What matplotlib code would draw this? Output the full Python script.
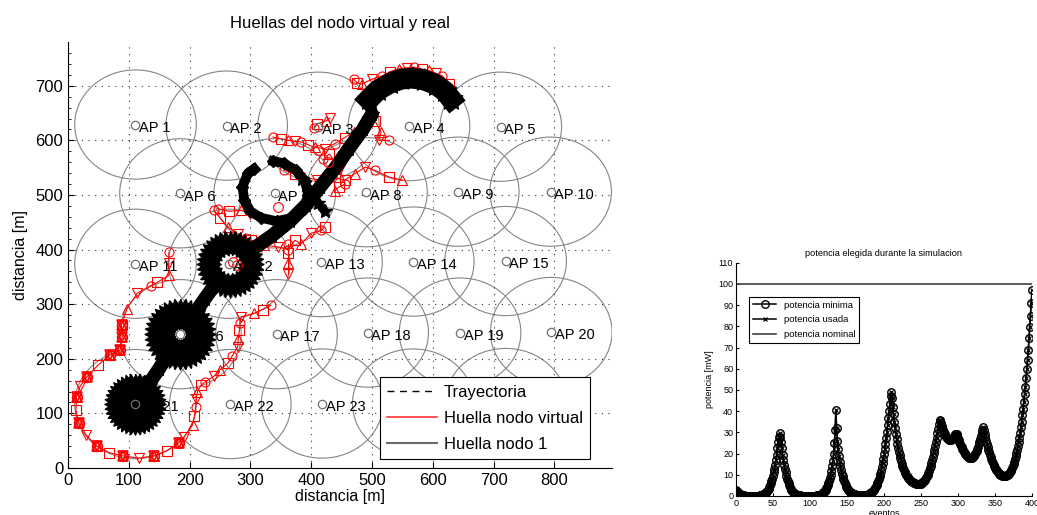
import matplotlib
matplotlib.use('Agg')
import matplotlib.pyplot as plt
import numpy as np
from matplotlib.patches import Circle
from matplotlib.lines import Line2D

plt.rcParams['font.family'] = ['Liberation Sans', 'DejaVu Sans']

# --- puntos de acceso (posiciones) ---
ap_x = [111, 261, 412, 561, 712, 185, 340, 491, 642, 794, 111, 265, 417, 568, 720,
        185, 343, 493, 645, 795, 111, 267, 418, 568, 720]
ap_y = [629, 627, 625, 626, 625, 503, 503, 505, 506, 506, 374, 374, 377, 378, 379,
        245, 245, 248, 248, 249, 117, 117, 118, 118, 119]
ap_radio = 100

# --- huella del nodo virtual (rojo) ---
red_a = [(334, 298), (320, 290), (306, 283), (285, 277), (283, 265), (282, 252), (280, 237),
         (279, 222), (270, 205), (263, 192), (250, 180), (240, 168), (226, 158), (219, 152),
         (213, 140), (211, 126), (210, 112), (208, 95), (205, 79), (191, 57), (182, 46),
         (163, 32), (141, 22), (116, 18), (91, 22), (68, 28), (47, 40), (30, 60), (18, 82),
         (13, 106), (14, 130), (20, 150), (31, 167), (49, 188), (69, 207), (86, 216),
         (89, 240), (88, 262), (97, 292), (114, 320), (136, 334), (147, 340), (166, 353),
         (166, 375), (166, 395)]
red_grupos = [(182, 46), (141, 22), (91, 22), (47, 40), (18, 82), (14, 130), (31, 167),
              (69, 207), (86, 216), (89, 240), (88, 262)]
red_b = [(240, 472), (250, 458), (263, 441), (279, 429), (292, 422), (301, 417), (322, 408),
         (345, 405), (362, 400), (373, 417), (384, 411), (400, 430), (417, 435), (422, 441)]
red_c = [(362, 411), (362, 393), (362, 375), (362, 356)]
red_d = [(337, 606), (350, 603), (362, 600), (373, 598), (384, 597), (395, 592), (406, 587),
         (422, 585), (439, 594), (455, 605), (470, 615)]
red_ap3 = [(405, 622), (410, 630), (425, 636), (431, 641)]
red_e = [(470, 712), (476, 705), (483, 703), (500, 712), (517, 718), (530, 726), (544, 731),
         (557, 733), (569, 734), (582, 731), (594, 728), (605, 723), (616, 718), (627, 703)]
red_g = [(490, 640), (505, 636), (515, 615), (511, 600), (528, 600)]
red_f = [(356, 545), (373, 539), (389, 532), (410, 528), (434, 533), (455, 527), (472, 539),
         (489, 551), (505, 545), (528, 533), (550, 527)]
red_h = [(420, 565), (430, 575), (440, 560), (447, 548), (456, 520), (445, 514), (439, 508)]
red_i = [(246, 475), (265, 470), (285, 472), (300, 466)]
red_sueltos = [(346, 478), (271, 377), (278, 372), (412, 583), (428, 560)]

# --- huella del nodo 1 (negro) ---
negro_tramo = [(110, 117), (150, 182), (185, 245), (225, 310), (266, 373), (300, 398),
               (335, 425), (365, 452), (392, 482), (415, 515), (440, 550), (462, 585),
               (485, 620), (500, 648)]
negro_tramo2 = [(190, 250), (215, 285), (240, 330), (262, 368)]
negro_anillo = [(306, 548), (296, 540), (287, 515), (290, 490), (300, 470), (318, 458),
                (343, 452), (368, 458), (388, 475), (395, 500), (390, 525), (375, 545),
                (355, 558), (338, 562)]
negro_cruz = [(385, 530), (400, 505), (412, 485), (422, 470)]
negro_arco = [(495, 675), (510, 692), (530, 705), (548, 712), (566, 714), (585, 711),
              (605, 702), (620, 690), (630, 676)]
negro_manchas_x = [111, 185, 266]
negro_manchas_y = [117, 245, 373]

# --- potencia elegida durante la simulacion (un valor por evento, 0..400) ---
potencia_minima = (
    [2.6, 2.2, 1.8, 1.5, 1.2, 1.0, 0.8, 0.6, 0.5, 0.4, 0.3]                       # 0-10
    + [0.25, 0.2, 0.17, 0.15, 0.12, 0.1, 0.07, 0.05, 0.03, 0.0,
       0.0, 0.0, 0.0, 0.0, 0.0, 0.02, 0.03, 0.05, 0.07, 0.1,
       0.15, 0.2, 0.27, 0.35, 0.45, 0.6]                                           # 11-36
    + [0.8, 1.0, 1.3, 1.6, 2.0, 2.4, 2.9, 3.5, 4.2, 5.0, 6.0, 7.0, 8.2, 9.5, 11.1,
       12.8, 14.8, 17, 19.5, 22.5, 25.5, 28, 29.5, 28, 25.5, 22.5, 19.5, 17, 14.8,
       12.8, 11.1, 9.5, 8.2, 7.0, 6.0, 5.0, 4.2, 3.5, 2.9, 2.4, 2.0, 1.6, 1.3, 1.0]  # 37-80
    + [0.85, 0.7, 0.57, 0.45, 0.37, 0.3, 0.25, 0.2, 0.15, 0.12,
       0.1, 0.07, 0.05, 0.03, 0.02, 0.0, 0.0, 0.0, 0.0, 0.0,
       0.0, 0.02, 0.03, 0.05, 0.07, 0.1, 0.14, 0.18, 0.24, 0.3,
       0.37, 0.45]                                                                 # 81-112
    + [0.55, 0.7, 0.9, 1.1, 1.4, 1.7, 2.1, 2.5, 3.0, 3.6,
       4.3, 5.1, 6.1, 7.2, 8.5, 10, 11.9, 14, 16.5, 20,
       25, 31, 40.5, 32, 26, 22, 19, 16, 14, 12.3,
       10.6, 9.2, 8, 6.9, 5.9, 5.1, 4.4, 3.8, 3.3, 2.8,
       2.4, 2.1, 1.8, 1.5, 1.3]                                                    # 113-157
    + [1.15, 1.0, 0.9, 0.8, 0.7, 0.6, 0.55, 0.5, 0.45, 0.4, 0.35, 0.32, 0.3, 0.3,
       0.3, 0.32, 0.35, 0.4, 0.45, 0.52, 0.6, 0.72]                                # 158-179
    + [1.0, 1.2, 1.4, 1.7, 2.0, 2.4, 2.8, 3.3, 3.9, 4.6,
       5.3, 6.1, 7.0, 8.0, 9.2, 10.5, 12, 13.6, 15.4, 17.4,
       19.6, 22, 24.6, 27.4, 30.4, 33.5, 36.8, 40, 43.5, 47,
       49, 46, 42, 38.5, 35, 32, 29.3, 26.8, 24.6, 22.6,
       20.8, 19.2, 17.8, 16.5, 15.3, 14.2, 13.2, 12.3, 11.5, 10.8,
       10.1, 9.5, 9.0, 8.5, 8.0, 7.6, 7.3, 7.0, 6.7, 6.4,
       6.2]                                                                        # 180-240
    + [6.0, 5.9, 5.8, 5.7, 5.6, 5.5, 5.5, 5.5, 5.6, 5.8]                           # 241-250
    + [6.1, 6.4, 6.7, 7.1, 7.5, 8.0, 8.6, 9.3, 10.1, 11,
       12, 13.1, 14.3, 15.6, 17, 18.5, 20.1, 21.8, 23.6, 25.5,
       27.5, 29.6, 31.8, 34, 36, 35.4, 34.3, 33.1, 32, 31,
       30.1, 29.3, 28.6, 28, 27.5, 27.1, 26.8, 26.6, 26.5, 26.6,
       26.8, 27.1, 27.5, 28, 28.5, 29, 29.2, 29, 28.2, 27.2,
       26.3, 25.4, 24.5, 23.7, 22.9, 22.2, 21.5, 20.9, 20.3, 19.8,
       19.3, 18.9, 18.5, 18.2, 18.0, 17.8, 17.8, 17.9, 18.1, 18.4,
       18.8, 19.3, 19.9, 20.6, 21.4, 22.3, 23.3, 24.4, 25.6, 26.9,
       28.3, 29.8, 31.2, 32.3]                                                     # 251-334
    + [31, 29.3, 27.6, 26, 24.5, 23.1, 21.8, 20.6, 19.5, 18.4,
       17.4, 16.5, 15.6, 14.8, 14.1, 13.4, 12.8, 12.2, 11.7, 11.2,
       10.8, 10.4, 10.1, 9.9, 9.7, 9.6, 9.5, 9.4, 9.4, 9.4,
       9.5, 9.7, 9.9, 10.2, 10.6, 11.1, 11.7, 12.4, 13.2, 14.1,
       15.1, 16.2, 17.4, 18.7, 20.1, 21.7, 23.5, 25.4, 27.5, 29.8,
       32.3, 35, 38, 41, 44.5, 48, 51.5, 55.6, 59.8, 64.3,
       69, 74.5, 79.5, 85, 90.9, 97.2]                                             # 335-400
)
potencia_usada = potencia_minima
potencia_nominal = 100
eventos = np.arange(len(potencia_minima))


def xy(puntos):
    return [p[0] for p in puntos], [p[1] for p in puntos]


def disco_puntas(n, interior):
    # contorno de estrella usado como marcador para las manchas negras
    ang = np.linspace(0, 2 * np.pi, 2 * n, endpoint=False)
    r = np.where(np.arange(2 * n) % 2 == 0, 1.0, interior)
    return np.column_stack([r * np.sin(ang), r * np.cos(ang)])


fig = plt.figure(figsize=(10.37, 5.15), dpi=100)

# ================= panel izquierdo =================
ax = fig.add_axes([0.0656, 0.0913, 0.5246, 0.827])

for x, y in zip(ap_x, ap_y):
    ax.add_patch(Circle((x, y), ap_radio, fill=False, ec='#858585', lw=0.8, zorder=1))

# trayectoria (discontinua, queda debajo)
tx, ty = xy(negro_tramo)
ax.plot(tx, ty, 'k--', lw=1, zorder=2)

# huella del nodo virtual
marcas = ['o', 's', '^', 'v']
for path in [red_a, red_b, red_c, red_d, red_ap3, red_e, red_g, red_f, red_h, red_i]:
    px, py = xy(path)
    ax.plot(px, py, '-', color='red', lw=0.8, zorder=2)
    for k, m in enumerate(marcas):
        ax.plot(px[k::4], py[k::4], ls='none', marker=m, ms=6.5, mfc='none',
                mec='red', mew=0.8, zorder=2)
gx, gy = xy(red_grupos)
for m in ['^', 'v', 'o']:
    ax.plot(gx, gy, ls='none', marker=m, ms=7, mfc='none', mec='red', mew=1.2, zorder=2)
sx, sy = xy(red_sueltos)
ax.plot(sx, sy, ls='none', marker='o', ms=7, mfc='none', mec='red', mew=0.8, zorder=4)

# huella del nodo 1
ax.plot(tx, ty, '-', color='k', lw=10, solid_capstyle='round', zorder=3)
bx, by = xy(negro_tramo2)
ax.plot(bx, by, '-', color='k', lw=6, solid_capstyle='round', zorder=3)
ax.plot(tx, ty, ls='none', marker='*', ms=11, color='k', zorder=3)
rx, ry = xy(negro_anillo)
ax.plot(rx, ry, '-', color='k', lw=7, zorder=3)
ax.plot(rx, ry, ls='none', marker='D', ms=6.5, color='k', zorder=3)
cx, cy = xy(negro_cruz)
ax.plot(cx, cy, '-', color='k', lw=6, zorder=3)
ax.plot(cx, cy, ls='none', marker='*', ms=10, color='k', zorder=3)
arx, ary = xy(negro_arco)
ax.plot(arx, ary, '-', color='k', lw=15, zorder=3)
ax.plot(arx, ary, ls='none', marker=disco_puntas(5, 0.45), ms=17, color='k', zorder=3)

tam_mancha = [44, 51, 48]
for x, y, s in zip(negro_manchas_x, negro_manchas_y, tam_mancha):
    ax.plot([x], [y], ls='none', marker=disco_puntas(40, 0.86), ms=s, color='k', zorder=3)
# huecos blancos en el centro de las manchas
for x, y, s in zip(negro_manchas_x[1:], negro_manchas_y[1:], [7, 15]):
    ax.plot([x], [y], ls='none', marker=disco_puntas(14, 0.7), ms=s, color='w', zorder=3)

# puntos de acceso
ax.plot(ap_x, ap_y, ls='none', marker='o', ms=6, mfc='none', mec='#707070', mew=0.9, zorder=5)
for i, (x, y) in enumerate(zip(ap_x, ap_y)):
    ax.text(x + 6, y - 6, 'AP %d' % (i + 1), fontsize=10.5, ha='left', va='center',
            color='k', zorder=5)

ax.set_xlim(0, 895)
ax.set_ylim(0, 780)
ax.set_xticks(np.arange(0, 900, 100))
ax.set_yticks(np.arange(0, 800, 100))
ax.set_yticks(np.arange(0, 780, 20), minor=True)
ax.tick_params(direction='in', length=4, labelsize=12)
ax.tick_params(which='minor', direction='in', length=2)
ax.grid(True, linestyle=(0, (1, 5)), color='#333333', lw=0.8)
ax.spines['top'].set_visible(False)
ax.spines['right'].set_visible(False)
ax.set_title('Huellas del nodo virtual y real', fontsize=12, pad=10)
ax.set_xlabel('distancia [m]', fontsize=11.5, labelpad=1)
ax.set_ylabel('distancia [m]', fontsize=11.5, labelpad=5)

handles = [Line2D([], [], color='k', ls=(0, (5, 4)), lw=1),
           Line2D([], [], color='#ff3333', lw=1.2),
           Line2D([], [], color='#6a6a6a', lw=1.5)]
leg = ax.legend(handles, ['Trayectoria', 'Huella nodo virtual', 'Huella nodo 1'],
                loc='lower left', bbox_to_anchor=(0.573, 0.021), borderaxespad=0,
                fontsize=12, handlelength=3.0, handletextpad=0.4, fancybox=False,
                framealpha=1, edgecolor='k', borderpad=0.45, labelspacing=0.65)
leg.get_frame().set_linewidth(0.8)
leg.set_zorder(10)

# ================= panel derecho =================
ax2 = fig.add_axes([0.7097, 0.0369, 0.2855, 0.453])
ax2.plot(eventos, potencia_minima, '-', color='k', lw=1.1, marker='o', ms=5.4,
         mfc='none', mew=1.0, label='potencia minima')
ax2.plot(eventos, potencia_usada, '-', color='k', lw=1.1, marker='x', ms=3.4,
         mew=0.9, label='potencia usada')
ax2.plot([eventos[0], eventos[-1]], [potencia_nominal, potencia_nominal], '-',
         color='#404040', lw=1.2, label='potencia nominal')
ax2.set_xlim(0, 400)
ax2.set_ylim(0, 110)
ax2.set_xticks(np.arange(0, 401, 50))
ax2.set_yticks(np.arange(0, 111, 10))
ax2.tick_params(direction='in', length=2.5, labelsize=6.5, pad=2)
ax2.spines['top'].set_visible(False)
ax2.spines['right'].set_visible(False)
ax2.set_title('potencia elegida durante la simulacion', fontsize=6.6, pad=5)
ax2.set_xlabel('eventos', fontsize=6.5, labelpad=1)
ax2.set_ylabel('potencia [mW]', fontsize=6.5, labelpad=3)
leg2 = ax2.legend(loc='upper left', bbox_to_anchor=(0.044, 0.853), borderaxespad=0,
                  fontsize=6.8, fancybox=False, framealpha=1, edgecolor='k',
                  handlelength=2.5, labelspacing=0.6)
leg2.get_frame().set_linewidth(0.8)

fig.savefig('out.png', dpi=100)
